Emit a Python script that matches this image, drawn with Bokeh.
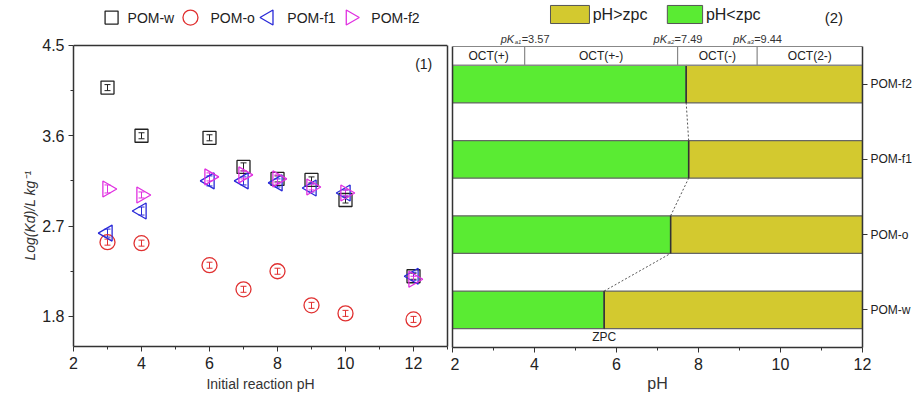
import numpy as np
from bokeh.plotting import figure
from bokeh.layouts import row
from bokeh.models import (FixedTicker, LinearAxis, ColumnDataSource, Whisker, TeeHead, Title)
from bokeh.core.properties import value
from bokeh.embed import file_html
from bokeh.resources import INLINE

# ---------------- data: panel (1) ----------------
ph = [3, 4, 6, 7, 8, 9, 10, 12]
kd_w = [4.08, 3.60, 3.58, 3.29, 3.17, 3.16, 2.96, 2.20]
kd_o = [2.54, 2.53, 2.31, 2.07, 2.25, 1.91, 1.83, 1.77]
kd_f1 = [2.63, 2.85, 3.15, 3.15, 3.13, 3.08, 3.03, 2.20]
kd_f2 = [3.07, 3.01, 3.19, 3.21, 3.17, 3.09, 3.03, 2.17]
err_w = [0.03, 0.03, 0.03, 0.04, 0.03, 0.03, 0.03, 0.03]
err_o = [0.03, 0.03, 0.03, 0.03, 0.03, 0.03, 0.03, 0.03]
err_f1 = [0.04, 0.04, 0.05, 0.04, 0.04, 0.04, 0.03, 0.04]
err_f2 = [0.04, 0.03, 0.04, 0.04, 0.04, 0.03, 0.03, 0.03]
series_names = ["POM-w", "POM-o", "POM-f1", "POM-f2"]
x_ticks_1 = [2, 4, 6, 8, 10, 12]
y_ticks_1 = [1.8, 2.7, 3.6, 4.5]

# ---------------- data: panel (2) ----------------
samples = ["POM-w", "POM-o", "POM-f1", "POM-f2"]
zpc = [5.70, 7.32, 7.76, 7.70]
pka_labels = ["3.57", "7.49", "9.44"]
oct_bounds = [2, 3.76, 7.49, 9.43, 12]
oct_names = ["OCT(+)", "OCT(+-)", "OCT(-)", "OCT(2-)"]
x_ticks_2 = [2, 4, 6, 8, 10, 12]

FONT = "Liberation Sans"
AX = "#333333"
GREEN = "#5AEB33"
OLIVE = "#D3C92F"

# =============== panel (1) ===============
p1 = figure(x_range=(2, 13), y_range=(1.5, 4.948), frame_width=374, frame_height=346,
            min_border_left=73, min_border_right=3, min_border_top=0, min_border_bottom=53,
            output_backend="svg", toolbar_location=None, background_fill_color="white")
p1.outline_line_color = None
p1.grid.visible = False

p1.xaxis.ticker = FixedTicker(ticks=x_ticks_1, minor_ticks=[3, 5, 7, 9, 11, 13])
p1.yaxis.ticker = FixedTicker(ticks=y_ticks_1, minor_ticks=[2.25, 3.15, 4.05])
p1.yaxis.bounds = (1.5, 4.5)
for ax in (p1.xaxis, p1.yaxis):
    ax.axis_line_color = AX
    ax.axis_line_width = 1.5
    ax.major_tick_line_color = AX
    ax.minor_tick_line_color = AX
    ax.major_tick_out = 5
    ax.major_tick_in = 0
    ax.minor_tick_out = 3
    ax.minor_tick_in = 0
    ax.major_label_text_font = FONT
    ax.major_label_text_font_size = "16px"
    ax.major_label_text_color = "#222222"
    ax.axis_label_text_font = FONT
    ax.axis_label_text_font_style = "normal"
    ax.axis_label_text_color = "#333333"
p1.xaxis.axis_label = "Initial reaction pH"
p1.xaxis.axis_label_text_font_size = "14px"
p1.xaxis.axis_label_standoff = 4
p1.yaxis.major_label_standoff = 4
p1.add_layout(Title(text="Log(Kd)/L kg⁻¹", align="left", offset=86,
                    text_font=FONT, text_font_size="14px", text_font_style="italic",
                    text_color="#333333", standoff=4), "left")

r1 = LinearAxis(ticker=FixedTicker(ticks=[]), bounds=(1.5, 4.5), axis_line_color=AX,
                axis_line_width=1.5, major_tick_out=0, major_tick_in=0, minor_tick_out=0,
                major_label_standoff=0, major_label_text_font_size="0px")
p1.add_layout(r1, "right")
p1.segment(x0=[2], y0=[4.5], x1=[13], y1=[4.5], line_color=AX, line_width=1.5)

colors = ["#222222", "#E03030", "#2A2AD8", "#E030E0"]
vals = [kd_w, kd_o, kd_f1, kd_f2]
errs = [err_w, err_o, err_f1, err_f2]
markers = ["square", "circle", "triangle", "triangle"]
angles = [0, 0, np.pi / 2, -np.pi / 2]
sizes = [13, 15, 16, 16]
for v, e, c, m, a, s in zip(vals, errs, colors, markers, angles, sizes):
    src = ColumnDataSource(dict(x=ph, y=v, up=[yy + ee for yy, ee in zip(v, e)],
                                lo=[yy - ee for yy, ee in zip(v, e)]))
    p1.scatter("x", "y", source=src, marker=m, angle=a, size=s, fill_color=None,
               line_color=c, line_width=1.3)
    p1.add_layout(Whisker(base="x", upper="up", lower="lo", source=src, dimension="height",
                          line_color=c, line_width=1,
                          upper_head=TeeHead(size=6, line_color=c, line_width=1),
                          lower_head=TeeHead(size=6, line_color=c, line_width=1)))

# legend (drawn in the top band)
leg_y = 4.778
leg_mx = [3.12, 5.44, 7.74, 10.15]
leg_tx = [3.59, 6.03, 8.29, 10.76]
for name, c, m, a, mx, tx in zip(series_names, colors, markers, angles, leg_mx, leg_tx):
    p1.scatter([mx], [leg_y], marker=m, angle=a, size=15 if m != "square" else 13,
               fill_color=None, line_color=c, line_width=1.3)
    p1.text([tx], [leg_y], text=[name], text_font=value(FONT), text_font_size="14px",
            text_baseline="middle", text_align="left", text_color="#222222")
p1.text([12.3], [4.32], text=["(1)"], text_font=value(FONT), text_font_size="14px",
        text_baseline="middle", text_align="center", text_color="#222222")

# =============== panel (2) ===============
p2 = figure(x_range=(2, 12), y_range=(0.5, 5.111), frame_width=410, frame_height=347,
            min_border_left=2, min_border_right=50, min_border_top=0, min_border_bottom=52,
            y_axis_location="right", output_backend="svg", toolbar_location=None)
p2.outline_line_color = None
p2.grid.visible = False

rows_y = [1, 2, 3, 4]
bar_h = 0.5
p2.hbar(y=rows_y, left=[2] * 4, right=zpc, height=bar_h, fill_color=GREEN,
        line_color="#666666", line_width=1.2)
p2.hbar(y=rows_y, left=zpc, right=[12] * 4, height=bar_h, fill_color=OLIVE,
        line_color="#666666", line_width=1.2)
p2.segment(x0=zpc, y0=[y - bar_h / 2 for y in rows_y], x1=zpc,
           y1=[y + bar_h / 2 for y in rows_y], line_color="#333333", line_width=1.5)
# dotted connectors between zpc of consecutive samples
p2.segment(x0=zpc[:-1], y0=[y + bar_h / 2 for y in rows_y[:-1]], x1=zpc[1:],
           y1=[y - bar_h / 2 for y in rows_y[1:]], line_color="#555555",
           line_width=1, line_dash="2 2")

# header band with species
p2.segment(x0=[2, 2], y0=[4.25, 4.5], x1=[12, 12], y1=[4.25, 4.5], line_color="#888888",
           line_width=1.2)
p2.segment(x0=oct_bounds[1:-1], y0=[4.25] * 3, x1=oct_bounds[1:-1], y1=[4.5] * 3,
           line_color="#888888", line_width=1.2)
oct_cx = [(a + b) / 2 for a, b in zip(oct_bounds[:-1], oct_bounds[1:])]
p2.text(oct_cx, [4.375] * 4, text=oct_names, text_font=value(FONT), text_font_size="12px",
        text_baseline="middle", text_align="center", text_color="#222222")
# pKa labels
subs = ["a1", "a2", "a3"]
for d, lab, sb in zip(oct_bounds[1:-1], pka_labels, subs):
    p2.text([d], [4.606], text=["pK"], x_offset=-24, text_font=value(FONT),
            text_font_size="11px", text_font_style="italic", text_baseline="middle",
            text_align="left", text_color="#333333")
    p2.text([d], [4.606], text=[sb], x_offset=-10, y_offset=3, text_font=value(FONT),
            text_font_size="6px", text_font_style="italic", text_baseline="middle",
            text_align="left", text_color="#333333")
    p2.text([d], [4.606], text=["=" + lab], x_offset=-3, text_font=value(FONT),
            text_font_size="11px", text_baseline="middle", text_align="left",
            text_color="#333333")

p2.text([zpc[0]], [0.633], text=["ZPC"], text_font=value(FONT), text_font_size="12px",
        text_baseline="middle", text_align="center", text_color="#222222")

# legend boxes
p2.quad(left=[4.39, 7.24], right=[5.34, 8.10], bottom=[4.805, 4.805], top=[5.045, 5.045],
        fill_color=[OLIVE, GREEN], line_color="#555555", line_width=1)
p2.text([5.42, 8.18], [4.925, 4.925], text=["pH>zpc", "pH<zpc"], text_font=value(FONT),
        text_font_size="16px", text_baseline="middle", text_align="left",
        text_color="#222222")
p2.text([11.3], [4.885], text=["(2)"], text_font=value(FONT), text_font_size="15px",
        text_baseline="middle", text_align="center", text_color="#222222")

# axes
p2.xaxis.ticker = FixedTicker(ticks=x_ticks_2, minor_ticks=[3, 5, 7, 9, 11])
p2.xaxis.axis_label = "pH"
p2.xaxis.axis_label_text_font_size = "16px"
p2.xaxis.axis_label_standoff = 2
yax = p2.yaxis[0]
yax.ticker = FixedTicker(ticks=rows_y)
yax.major_label_overrides = {1: "POM-w", 2: "POM-o", 3: "POM-f1", 4: "POM-f2"}
yax.bounds = (0.5, 4.5)
for ax in (p2.xaxis[0], yax):
    ax.axis_line_color = AX
    ax.axis_line_width = 1.5
    ax.major_tick_line_color = AX
    ax.minor_tick_line_color = AX
    ax.major_tick_out = 5
    ax.major_tick_in = 0
    ax.minor_tick_out = 3
    ax.minor_tick_in = 0
    ax.major_label_text_font = FONT
    ax.major_label_text_color = "#222222"
    ax.axis_label_text_font = FONT
    ax.axis_label_text_font_style = "normal"
    ax.axis_label_text_color = "#333333"
yax.minor_tick_line_color = None
p2.xaxis.major_label_text_font_size = "16px"
yax.major_label_text_font_size = "12px"
yax.major_label_standoff = 3

l2 = LinearAxis(ticker=FixedTicker(ticks=[]), bounds=(0.5, 4.5), axis_line_color=AX,
                axis_line_width=1.5, major_tick_out=0, major_tick_in=0, minor_tick_out=0,
                major_label_standoff=0, major_label_text_font_size="0px")
p2.add_layout(l2, "left")

layout = row(p1, p2)
open("out.html", "w").write(file_html(layout, INLINE))
